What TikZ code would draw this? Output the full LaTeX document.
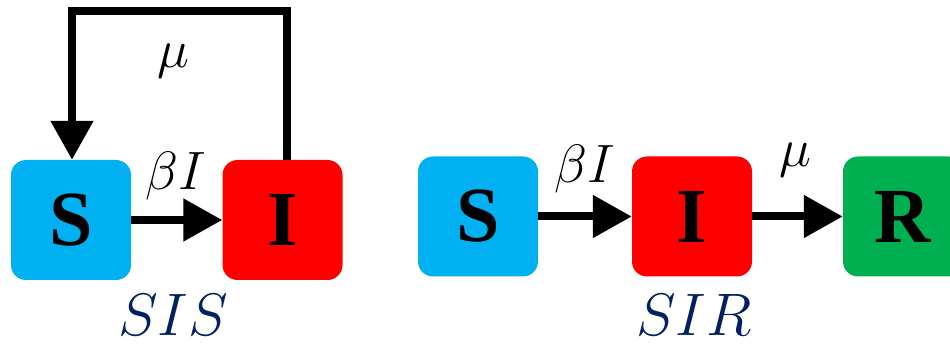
\RequirePackage{fix-cm}
\documentclass[tikz,border=0pt]{standalone}
\usepackage{fontspec}
\setmainfont{Liberation Serif}
\usetikzlibrary{arrows.meta}
\definecolor{scyan}{HTML}{00B0F0}
\definecolor{ired}{HTML}{FF0000}
\definecolor{rgreen}{HTML}{00B050}
\definecolor{navy}{HTML}{002060}
\tikzset{
  box/.style={rounded corners=15pt, minimum width=120pt, minimum height=120pt, inner sep=0pt, font=\fontsize{78}{80}\selectfont\bfseries},
  flow/.style={line width=8pt, -{Triangle[length=39pt,width=41pt]}},
  rate/.style={font=\fontsize{54}{56}\selectfont, inner sep=0pt},
  model/.style={font=\fontsize{60}{62}\selectfont, text=navy, inner sep=0pt, anchor=base}
}
\begin{document}
\begin{tikzpicture}[x=1pt,y=-1pt]
\useasboundingbox (0,0) rectangle (950,347);
\clip (0,0) rectangle (950,347);
% SIS
\node[box, fill=scyan] (S1) at (71,220) {S};
\node[box, fill=ired] (I1) at (282.5,220) {I};
\draw[flow] (S1) -- (I1);
\coordinate (loop) at (72,11);
\draw[flow] ([xshift=4.5pt]I1.north) |- (loop) -- (S1.north -| loop);
\node[rate] (mu1) at (173,61) {$\mu$};
\node[rate, anchor=base] (b1) at (176,190) {$\beta I$};
\node[model] (sis) at (173,335) {$SIS$};
% SIR
\node[box, fill=scyan] (S2) at (478,216.5) {S};
\node[box, fill=ired] (I2) at (692,216.5) {I};
\node[box, fill=rgreen] (R2) at (903,216.5) {R};
\draw[flow] (S2) -- (I2);
\draw[flow] (I2) -- (R2);
\node[rate, anchor=base] (b2) at (585,183) {$\beta I$};
\node[rate] (mu2) at (795,160) {$\mu$};
\node[model] (sir) at (694,335) {$SIR$};
\end{tikzpicture}
\end{document}
